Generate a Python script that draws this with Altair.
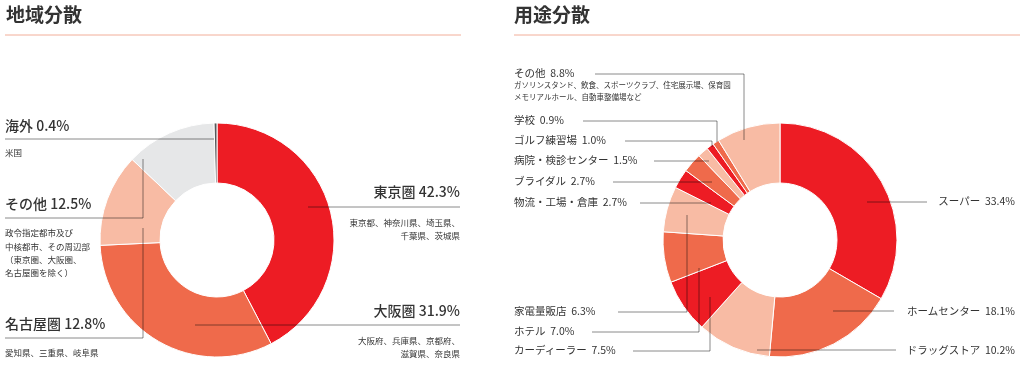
import altair as alt
import pandas as pd

# ---------------- data ----------------
region_names = ["東京圏", "大阪圏", "名古屋圏", "その他", "海外"]
region_values = [42.3, 31.9, 12.8, 12.5, 0.4]
region_notes = [
    ["東京都、神奈川県、埼玉県、", "千葉県、茨城県"],
    ["大阪府、兵庫県、京都府、", "滋賀県、奈良県"],
    ["愛知県、三重県、岐阜県"],
    ["政令指定都市及び", "中核都市、その周辺部", "（東京圏、大阪圏、", "名古屋圏を除く）"],
    ["米国"],
]

use_names = ["スーパー", "ホームセンター", "ドラッグストア", "カーディーラー", "ホテル",
             "家電量販店", "物流・工場・倉庫", "ブライダル", "病院・検診センター",
             "ゴルフ練習場", "学校", "その他"]
use_values = [33.4, 18.1, 10.2, 7.5, 7.0, 6.3, 2.7, 2.7, 1.5, 1.0, 0.9, 8.8]
use_notes = {"その他": ["ガソリンスタンド、飲食、スポーツクラブ、住宅展示場、保育園",
                       "メモリアルホール、自動車整備場など"]}

titles = ["地域分散", "用途分散"]

# ---------------- styles / layout ----------------
FONT = "Noto Sans CJK JP"
TXT = "#333333"
LINE = "#8a8a8a"
RED, ORANGE, SALMON = "#ED1C24", "#EF6A4B", "#F8BBA4"
region_colors = [RED, ORANGE, SALMON, "#E6E7E8", "#58595B"]
use_colors = [RED, ORANGE, SALMON] * 4

# label anchor (x, y, align) and note y positions
region_layout = {
    "東京圏": (460, 193, "right", [223, 236]),
    "大阪圏": (460, 312, "right", [341, 354]),
    "名古屋圏": (5, 325, "left", [353]),
    "その他": (5, 205, "left", [233, 247, 260, 273]),
    "海外": (5, 127, "left", [153]),
}
region_leaders = {
    "東京圏": [(308, 207, 460, 207)],
    "大阪圏": [(195, 325, 460, 325)],
    "名古屋圏": [(5, 338, 143, 338), (143, 338, 143, 228)],
    "その他": [(5, 218, 143, 218), (143, 218, 143, 159)],
    "海外": [(5, 139, 214, 139)],
}
use_layout = {
    "スーパー": (1015, 202, "right", []),
    "ホームセンター": (1015, 312, "right", []),
    "ドラッグストア": (1015, 351, "right", []),
    "カーディーラー": (514, 351, "left", []),
    "ホテル": (514, 332, "left", []),
    "家電量販店": (514, 312, "left", []),
    "物流・工場・倉庫": (514, 203, "left", []),
    "ブライダル": (514, 182, "left", []),
    "病院・検診センター": (514, 161, "left", []),
    "ゴルフ練習場": (514, 141, "left", []),
    "学校": (514, 121, "left", []),
    "その他": (514, 74, "left", [86, 98]),
}
use_leaders = {
    "スーパー": [(867, 202, 927, 202)],
    "ホームセンター": [(833, 311, 894, 311)],
    "ドラッグストア": [(757, 350, 896, 350)],
    "カーディーラー": [(633, 351, 710, 351), (710, 351, 710, 297)],
    "ホテル": [(592, 332, 699, 332), (699, 332, 699, 268)],
    "家電量販店": [(618, 312, 687, 312), (687, 312, 687, 215)],
    "物流・工場・倉庫": [(640, 203, 711, 203)],
    "ブライダル": [(613, 182, 712, 182)],
    "病院・検診センター": [(654, 161, 709, 161)],
    "ゴルフ練習場": [(625, 141, 712, 141), (712, 141, 712, 147)],
    "学校": [(583, 121, 717, 121), (717, 121, 717, 142)],
    "その他": [(595, 74, 744, 74), (744, 74, 744, 140)],
}

W, H = 1024, 377
R_OUT, R_IN = 117, 57
GAP = "\u00a0\u00a0"


def donut(names, values, colors, cx, cy):
    df = pd.DataFrame({"name": names, "value": values, "idx": list(range(len(names)))})
    return alt.Chart(df).mark_arc(
        radius=R_OUT, radius2=R_IN, stroke="white", strokeWidth=1
    ).encode(
        theta=alt.Theta("value:Q", stack=True),
        order=alt.Order("idx:Q"),
        color=alt.Color("name:N", scale=alt.Scale(domain=names, range=colors), legend=None),
        x=alt.value(cx), y=alt.value(cy),
    )


def text_layer(rows, size, weight="normal"):
    df = pd.DataFrame(rows, columns=["x", "y", "t", "align"])
    layers = []
    for al in ["left", "right"]:
        sub = df[df["align"] == al]
        if len(sub) == 0:
            continue
        layers.append(alt.Chart(sub).mark_text(
            align=al, baseline="middle", font=FONT, fontSize=size,
            fontWeight=weight, color=TXT
        ).encode(
            x=alt.X("x:Q", scale=None), y=alt.Y("y:Q", scale=None), text="t:N"
        ))
    return layers


def rules(segs, color, blend=None):
    df = pd.DataFrame(segs, columns=["x", "y", "x2", "y2"])
    kw = dict(color=color, strokeWidth=1)
    if blend:
        kw["blend"] = blend
    return alt.Chart(df).mark_rule(**kw).encode(
        x=alt.X("x:Q", scale=None), y=alt.Y("y:Q", scale=None),
        x2="x2:Q", y2="y2:Q",
    )


# main labels
left_main, left_note = [], []
for n, v in zip(region_names, region_values):
    x, y, al, ny = region_layout[n]
    left_main.append((x, y, f"{n}\u00a0{v:.1f}%", al))
    for t, yy in zip(region_notes[region_names.index(n)], ny):
        left_note.append((x, yy, t, al))

right_main, right_note = [], []
for n, v in zip(use_names, use_values):
    x, y, al, ny = use_layout[n]
    right_main.append((x, y, f"{n}{GAP}{v:.1f}%", al))
    for t, yy in zip(use_notes.get(n, []), ny):
        right_note.append((x, yy, t, al))

segs = [s for n in region_names for s in region_leaders[n]] + \
       [s for n in use_names for s in use_leaders[n]]

title_df = pd.DataFrame({"x": [6, 514], "y": [16, 16], "t": titles})
title_layer = alt.Chart(title_df).mark_text(
    align="left", baseline="middle", font=FONT, fontSize=19, fontWeight="bold", color=TXT
).encode(x=alt.X("x:Q", scale=None), y=alt.Y("y:Q", scale=None), text="t:N")

title_rules = rules([(5, 35, 461, 35), (514, 35, 1020, 35)], "#F2AE99")

layers = [
    donut(region_names, region_values, region_colors, 217, 240),
    donut(use_names, use_values, use_colors, 780, 240),
    rules(segs, LINE, blend="multiply"),
    title_rules,
    title_layer,
]
layers += text_layer(left_main, 14, 500)
layers += text_layer(left_note, 8.5)
layers += text_layer(right_main, 10.5)
layers += text_layer(right_note, 7.5)

chart = alt.layer(*layers).resolve_scale(
    theta="independent", color="independent"
).properties(
    width=W, height=H, padding=0, autosize="none", background="white"
).configure_view(stroke=None)

chart.save("out.html", embed_options={"renderer": "svg", "actions": False})
